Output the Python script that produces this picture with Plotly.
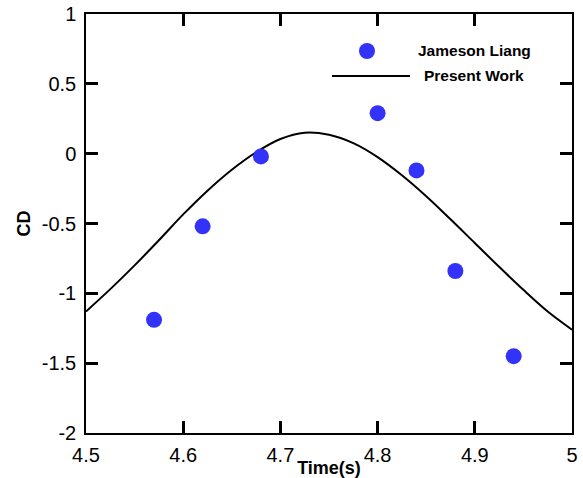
import plotly.graph_objects as go

# Reference data (Jameson Liang)
ref_time = [4.57, 4.62, 4.68, 4.80, 4.84, 4.88, 4.94]
ref_cd = [-1.19, -0.52, -0.02, 0.29, -0.12, -0.84, -1.45]

# Present work curve
work_time = [4.500, 4.525, 4.550, 4.575, 4.600, 4.625, 4.650, 4.675, 4.700, 4.725,
             4.750, 4.775, 4.800, 4.825, 4.850, 4.875, 4.900, 4.925, 4.950, 4.975, 5.000]
work_cd = [-1.13, -0.97, -0.80, -0.62, -0.435, -0.265, -0.115, 0.01, 0.105, 0.15,
           0.135, 0.075, -0.025, -0.155, -0.305, -0.47, -0.64, -0.81, -0.975, -1.13, -1.26]

x_ticks = [4.5, 4.6, 4.7, 4.8, 4.9, 5]
x_tick_text = ["4.5", "4.6", "4.7", "4.8", "4.9", "5"]
y_ticks = [-2, -1.5, -1, -0.5, 0, 0.5, 1]
y_tick_text = ["-2", "-1.5", "-1", "-0.5", "0", "0.5", "1"]

series_names = ["Jameson Liang", "Present Work"]

BLUE = "#3232F8"
FONT = "Liberation Sans, Arial, sans-serif"

fig = go.Figure()
fig.add_trace(go.Scatter(
    x=work_time, y=work_cd, mode="lines", name=series_names[1],
    line=dict(color="black", width=2, shape="spline", smoothing=1.0),
    showlegend=False,
))
fig.add_trace(go.Scatter(
    x=ref_time, y=ref_cd, mode="markers", name=series_names[0],
    marker=dict(color=BLUE, size=16, line=dict(width=0)),
    showlegend=False,
))

W, H = 583, 478
L, R, T, B = 86, 11, 14, 45
pw, ph = W - L - R, H - T - B

def px(xp):
    return (xp - L) / pw

def py(yp):
    return (H - B - yp) / ph

# custom legend (decoration)
mx, my, rad = 367, 51, 8
shapes = [
    dict(type="circle", xref="paper", yref="paper",
         x0=px(mx - rad), x1=px(mx + rad), y0=py(my + rad), y1=py(my - rad),
         fillcolor=BLUE, line=dict(width=0)),
    dict(type="line", xref="paper", yref="paper",
         x0=px(332), x1=px(410), y0=py(76), y1=py(76),
         line=dict(color="black", width=2)),
]
annotations = [
    dict(xref="paper", yref="paper", x=px(416), y=py(50), text=series_names[0],
         showarrow=False, xanchor="left", yanchor="middle",
         font=dict(family=FONT, size=15.5, color="black", weight="bold")),
    dict(xref="paper", yref="paper", x=px(422), y=py(75), text=series_names[1],
         showarrow=False, xanchor="left", yanchor="middle",
         font=dict(family=FONT, size=15.5, color="black", weight="bold")),
]

axis_common = dict(
    showgrid=False, zeroline=False, showline=True, linecolor="black", linewidth=1.5,
    mirror="ticks", ticks="inside", ticklen=12, tickwidth=3, tickcolor="black",
    tickfont=dict(family=FONT, size=20, color="black"), automargin=False,
)

fig.update_layout(
    width=W, height=H,
    margin=dict(l=L, r=R, t=T, b=B),
    paper_bgcolor="white", plot_bgcolor="white",
    showlegend=False,
    shapes=shapes, annotations=annotations,
    xaxis=dict(range=[4.5, 5], tickvals=x_ticks, ticktext=x_tick_text,
               ticklabelstandoff=3,
               title=dict(text="Time(s)", standoff=0,
                          font=dict(family=FONT, size=18, color="black", weight="bold")),
               **axis_common),
    yaxis=dict(range=[-2, 1], tickvals=y_ticks, ticktext=y_tick_text,
               ticklabelstandoff=4,
               title=dict(text="CD", standoff=6,
                          font=dict(family=FONT, size=18, color="black", weight="bold")),
               **axis_common),
)

fig.write_html("out.html")
